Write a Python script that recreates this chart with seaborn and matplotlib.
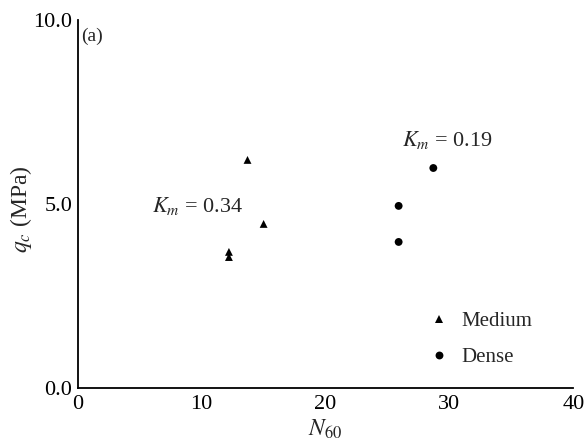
import matplotlib
matplotlib.use("Agg")
import matplotlib.pyplot as plt
import seaborn as sns
import pandas as pd

medium_n60 = [13.7, 15.0, 12.2, 12.2]
medium_qc = [6.2, 4.46, 3.70, 3.56]
dense_n60 = [28.7, 25.9, 25.9]
dense_qc = [5.98, 4.95, 3.97]
x_ticks = [0, 10, 20, 30, 40]
y_ticks = [0.0, 5.0, 10.0]

df = pd.DataFrame({
    "N60": medium_n60 + dense_n60,
    "qc": medium_qc + dense_qc,
    "Density": ["Medium"] * len(medium_n60) + ["Dense"] * len(dense_n60),
})

sns.set_style("white")
plt.rcParams["font.family"] = ["Liberation Serif", "DejaVu Serif"]
plt.rcParams["mathtext.fontset"] = "stix"

fig = plt.figure(figsize=(5.85, 4.47), dpi=100)
ax = fig.add_axes([0.133, 0.132, 0.847, 0.823])

sns.scatterplot(data=df, x="N60", y="qc", style="Density", hue="Density",
                markers={"Medium": "^", "Dense": "o"},
                palette={"Medium": "black", "Dense": "black"},
                s=32, linewidth=0, ax=ax)

ax.set_xlim(0, 40)
ax.set_ylim(0, 10)
ax.set_xticks(x_ticks)
ax.set_xticklabels([str(t) for t in x_ticks])
ax.set_yticks(y_ticks)
ax.set_yticklabels([f"{t:.1f}" for t in y_ticks])
ax.tick_params(axis="both", labelsize=16, length=0, colors="black")
ax.tick_params(axis="x", pad=5)
ax.tick_params(axis="y", pad=4)
ax.set_xlabel("$N_{60}$", fontsize=17, labelpad=3)
ax.set_ylabel("$q_c$ (MPa)", fontsize=17)
ax.yaxis.set_label_coords(-0.089, 0.486)
for sp in ["top", "right"]:
    ax.spines[sp].set_visible(False)
for sp in ["left", "bottom"]:
    ax.spines[sp].set_color("black")
    ax.spines[sp].set_linewidth(1.3)

ax.text(0.3, 9.55, "(a)", fontsize=14, ha="left", va="center")
ax.text(6.0, 4.95, "$K_m$ = 0.34", fontsize=16, ha="left", va="center")
ax.text(26.2, 6.75, "$K_m$ = 0.19", fontsize=16, ha="left", va="center")

leg = ax.legend(loc="lower left", bbox_to_anchor=(0.66, 0.005), frameon=False,
                fontsize=15, handletextpad=0.3, labelspacing=0.8, markerscale=1.0,
                handlelength=1.5)

fig.savefig("out.png", dpi=100)
